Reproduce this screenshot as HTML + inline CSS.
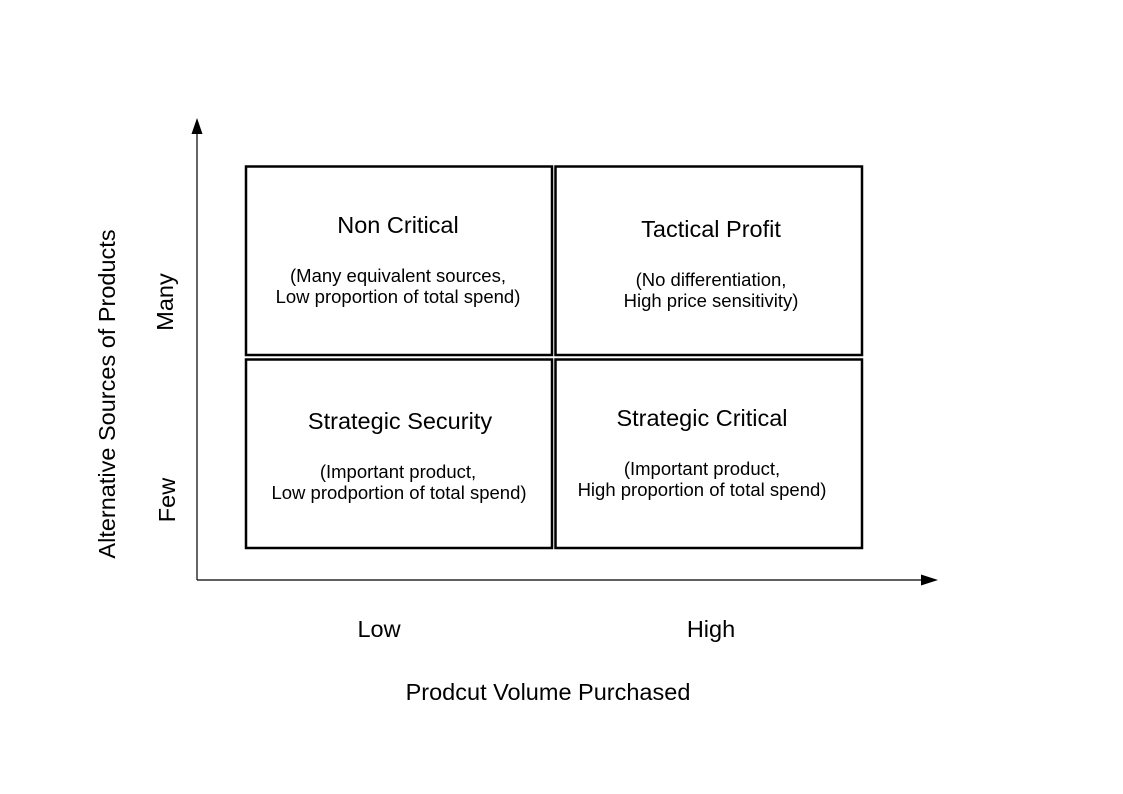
<!DOCTYPE html>
<html><head><meta charset="utf-8"><style>
html,body{margin:0;padding:0;background:#fff;}
svg{display:block;}
text{font-family:"Liberation Sans",sans-serif;fill:#000;}
</style></head><body>
<svg width="1123" height="794" viewBox="0 0 1123 794" xmlns="http://www.w3.org/2000/svg">
<g fill="none" stroke="#000" stroke-width="2.5">
<rect x="246" y="166.5" width="306" height="188.5"/>
<rect x="555.5" y="166.5" width="306.5" height="188.5"/>
<rect x="246" y="359.5" width="306" height="188.5"/>
<rect x="555.5" y="359.5" width="306.5" height="188.5"/>
</g>
<g stroke="#000" stroke-width="1.2">
<line x1="197" y1="580" x2="197" y2="132"/>
<line x1="197" y1="580" x2="922" y2="580"/>
</g>
<polygon points="197,118 191.5,134 202.5,134" fill="#000"/>
<polygon points="938,580 921,574.5 921,585.5" fill="#000"/>
<g text-anchor="middle">
<text x="398" y="233" font-size="23.5">Non Critical</text>
<text x="398" y="282" font-size="18.5">(Many equivalent sources,</text>
<text x="398" y="303" font-size="18.5">Low proportion of total spend)</text>
<text x="711" y="237" font-size="23.5">Tactical Profit</text>
<text x="711" y="286" font-size="18.5">(No differentiation,</text>
<text x="711" y="307" font-size="18.5">High price sensitivity)</text>
<text x="400" y="429" font-size="23.5">Strategic Security</text>
<text x="398" y="478" font-size="18.5">(Important product,</text>
<text x="399" y="499" font-size="18.5">Low prodportion of total spend)</text>
<text x="702" y="426" font-size="23.5">Strategic Critical</text>
<text x="702" y="475" font-size="18.5">(Important product,</text>
<text x="702" y="496" font-size="18.5">High proportion of total spend)</text>
<text x="379" y="637" font-size="23.5">Low</text>
<text x="711" y="637" font-size="23.5">High</text>
<text x="548" y="700" font-size="23.5">Prodcut Volume Purchased</text>
<text transform="translate(115,394) rotate(-90)" font-size="23.5">Alternative Sources of Products</text>
<text transform="translate(173,302) rotate(-90)" font-size="23.5">Many</text>
<text transform="translate(175,500) rotate(-90)" font-size="23.5">Few</text>
</g>
</svg>
</body></html>
